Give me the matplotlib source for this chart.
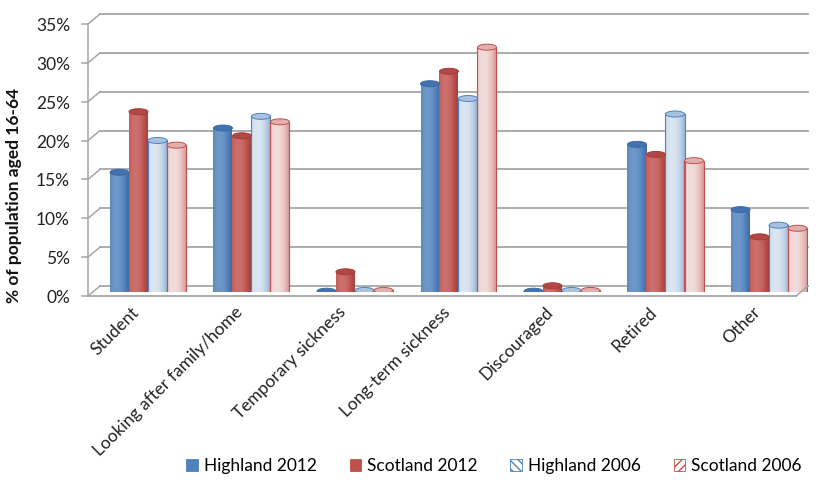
import numpy as np
import matplotlib.pyplot as plt
from matplotlib.patches import Ellipse, Patch
from matplotlib.lines import Line2D
from matplotlib.transforms import IdentityTransform, ScaledTranslation
from matplotlib.colors import to_rgb

plt.rcParams['font.family'] = ['Lato', 'DejaVu Sans']

categories = ['Student', 'Looking after family/home', 'Temporary sickness',
              'Long-term sickness', 'Discouraged', 'Retired', 'Other']
highland_2012 = [15.4, 21.1, 0.1, 26.8, 0.1, 19.0, 10.6]
scotland_2012 = [23.2, 20.1, 2.6, 28.4, 0.8, 17.7, 7.1]
highland_2006 = [19.5, 22.6, 0.2, 24.9, 0.2, 22.9, 8.6]
scotland_2006 = [18.9, 21.9, 0.2, 31.5, 0.2, 16.9, 8.2]
series_names = ['Highland 2012', 'Scotland 2012', 'Highland 2006', 'Scotland 2006']
y_ticks = [0, 5, 10, 15, 20, 25, 30, 35]

# fill, rim, top-cap colour, pale?
styles = [('#4F81BD', '#3A6BA5', '#4272B0', False),
          ('#C0504D', '#A23E3B', '#B24744', False),
          ('#DCE6F2', '#4F81BD', '#A9C2E0', True),
          ('#F2DCDB', '#C0504D', '#E3AFAD', True)]
hatches = [None, None, '\\\\\\\\', '////']

fig = plt.figure(figsize=(8.2, 4.8), dpi=100)
W, H = 820, 480
ax = fig.add_axes([100 / W, 188 / H, 708 / W, 272 / H])
ax.patch.set_visible(False)
for s in ax.spines.values():
    s.set_visible(False)

x = np.arange(len(categories))
ax.set_xlim(-48 / 103.5, 660 / 103.5)
ax.set_ylim(0, 35)

px_y = 35 / 272.0          # data units per pixel (vertical)
back, front, depth = 6, -4, 12   # wall / front-edge offsets in pixels
grid_col = '#A6A6A6'


def disp(xa, v, dx=0, dy=0):
    p = ax.get_yaxis_transform().transform((xa, v))
    return p[0] + dx, p[1] + dy


def pix_line(p0, p1, **kw):
    ax.add_line(Line2D([p0[0], p1[0]], [p0[1], p1[1]], transform=IdentityTransform(),
                       clip_on=False, **kw))


# back wall gridlines, left depth ticks, front axis and floor
for v in y_ticks:
    pix_line(disp(0, v, dy=back), disp(1, v, dy=back), color=grid_col, lw=1.3, zorder=1)
    pix_line(disp(0, v, dx=-depth, dy=front), disp(0, v, dy=back), color=grid_col, lw=1.1, zorder=1)
    pix_line(disp(0, v, dx=-depth - 6, dy=front), disp(0, v, dx=-depth, dy=front),
             color=grid_col, lw=1.1, zorder=1)
    tx, ty = disp(0, v, dx=-depth - 18, dy=front - 2)
    ax.text(tx, ty, f'{v}%', transform=IdentityTransform(), ha='right', va='center',
            fontsize=12.5, color='#222222')
pix_line(disp(0, 0, dx=-depth, dy=front), disp(0, y_ticks[-1], dx=-depth, dy=front),
         color=grid_col, lw=1.1, zorder=1)
pix_line(disp(0, 0, dx=-depth, dy=front), disp(1, 0, dx=-depth, dy=front),
         color=grid_col, lw=1.3, zorder=5)
pix_line(disp(1, 0, dx=-depth, dy=front), disp(1, 0, dy=back), color=grid_col, lw=1.1, zorder=5)

bar_w = 19 / 103.5
cap_h = 6 * px_y
t = np.linspace(0, 1, 64)
prof = np.clip(1 - 1.8 * (t - 0.35) ** 2, 0, 1)


def body_colors(fill, rim, pale):
    f = np.array(to_rgb(fill))
    r = np.array(to_rgb(rim))
    if pale:
        mix = (0.65 * (1 - prof))[:, None]
        return f * (1 - mix) + r * mix
    k = 0.72 + 0.42 * prof
    out = np.empty((len(t), 3))
    for i, kk in enumerate(k):
        if kk <= 1:
            out[i] = f * kk
        else:
            out[i] = f + (1 - f) * (kk - 1) * 1.3
    return np.clip(out, 0, 1)


def cylinder(xc, h, style):
    fill, rim, top, pale = style
    cols = body_colors(fill, rim, pale)
    x0, x1 = xc - bar_w / 2, xc + bar_w / 2
    ax.add_patch(Ellipse((xc, 0), bar_w, cap_h, facecolor=cols[40],
                         edgecolor=rim if pale else 'none', lw=0.8, zorder=2.9))
    ax.imshow(cols[None, :, :], extent=(x0, x1, 0, h), aspect='auto',
              interpolation='bilinear', zorder=3)
    if pale:
        ax.plot([x0, x0], [0, h], color=rim, lw=0.8, zorder=3.05)
        ax.plot([x1, x1], [0, h], color=rim, lw=0.8, zorder=3.05)
    ax.add_patch(Ellipse((xc, h), bar_w, cap_h, facecolor=top,
                         edgecolor=rim, lw=0.7, zorder=3.1))


series = [highland_2012, scotland_2012, highland_2006, scotland_2006]
for i, (vals, st) in enumerate(zip(series, styles)):
    for xc, v in zip(x + (i - 1.5) * bar_w, vals):
        cylinder(xc, v, st)

ax.set_xlim(-48 / 103.5, 660 / 103.5)
ax.set_ylim(0, 35)
ax.set_yticks([])
ax.set_xticks(x)
ax.set_xticklabels(categories, rotation=45, ha='right', rotation_mode='anchor',
                   fontsize=12.5, color='#222222')
ax.tick_params(axis='x', length=0, pad=10)
shift = ScaledTranslation(-17 / 100, 2 / 100, fig.dpi_scale_trans)
for lab in ax.get_xticklabels():
    lab.set_transform(lab.get_transform() + shift)

fig.text(14 / W, 1 - 195 / H, '% of population aged 16-64', rotation=90,
         ha='center', va='center', fontsize=12.5, fontweight='bold', color='#111111')

handles = [Patch(facecolor=st[0] if h is None else 'white',
                 edgecolor=st[0] if h is None else st[1], hatch=h, lw=0.6)
           for st, h in zip(styles, hatches)]
fig.legend(handles, series_names, loc='center', bbox_to_anchor=(494 / W, 1 - 466 / H),
           ncol=4, frameon=False, fontsize=12.5, handlelength=0.65, handleheight=0.65,
           handletextpad=0.35, columnspacing=1.9)

fig.savefig('out.png', dpi=100)
